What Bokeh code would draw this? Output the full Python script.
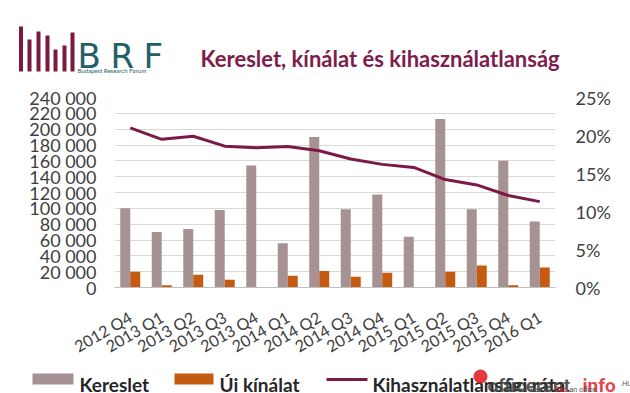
import math
from bokeh.plotting import figure
from bokeh.models import Range1d, FactorRange, LinearAxis, FixedTicker
from bokeh.transform import dodge
from bokeh.layouts import column, row
from bokeh.embed import file_html
from bokeh.resources import INLINE
from bokeh.core.properties import value

# ---------------- data ----------------
quarters = ["2012 Q4", "2013 Q1", "2013 Q2", "2013 Q3", "2013 Q4", "2014 Q1", "2014 Q2",
            "2014 Q3", "2014 Q4", "2015 Q1", "2015 Q2", "2015 Q3", "2015 Q4", "2016 Q1"]
kereslet = [100000, 70000, 74000, 98000, 154000, 56000, 190000,
            99000, 117500, 64000, 213000, 99000, 160000, 83500]
uj_kinalat = [20000, 3000, 16000, 9700, 0, 14700, 21000,
              13500, 18500, 0, 19800, 27800, 3000, 25300]
kihasznalatlansag = [21.0, 19.5, 19.9, 18.6, 18.4, 18.55, 18.0,
                     16.9, 16.2, 15.8, 14.2, 13.5, 12.1, 11.3]
left_ticks = [0, 20000, 40000, 60000, 80000, 100000, 120000, 140000,
              160000, 180000, 200000, 220000, 240000]
left_labels = ["0", "20 000", "40 000", "60 000", "80 000", "100 000", "120 000",
               "140 000", "160 000", "180 000", "200 000", "220 000", "240 000"]
right_ticks = [0, 5, 10, 15, 20, 25]
right_labels = ["0%", "5%", "10%", "15%", "20%", "25%"]
title_text = "Kereslet, kínálat és kihasználatlanság"
legend_labels = ["Kereslet", "Új kínálat", "Kihasználatlansági ráta"]

# ---------------- styles ----------------
GRAY = "#A69292"
ORANGE = "#C55A11"
MAROON = "#7B1A47"
TITLE_COL = "#7E1D4C"
TEAL = "#21606B"
TXT = "#404040"
FONT = "Lato"
W = 630


def blank(h):
    f = figure(width=W, height=h, x_range=Range1d(0, W), y_range=Range1d(h, 0),
               output_backend="svg", toolbar_location=None, min_border=0,
               x_axis_location=None, y_axis_location=None)
    f.grid.visible = False
    f.outline_line_color = None
    return f


# ---------------- header ----------------
logo_bar_x = [20.5, 29, 38, 47, 55, 64, 72]
logo_bar_top = [26, 39, 31, 35, 49, 45, 32]
logo_bar_bottom = [71] * 7
logo_letters = ["B", "R", "F"]
logo_letter_x = [77, 110, 143]

header = blank(85)
header.vbar(x=logo_bar_x, top=logo_bar_top, bottom=logo_bar_bottom, width=4,
            color="#7B1A3F", line_color=None)
header.text(x=logo_letter_x, y=[55] * 3, text=logo_letters, text_font=value("DejaVu Sans"),
            text_font_size="34px", text_color=TEAL, text_baseline="alphabetic")
header.text(x=[77], y=[70], text=["Budapest Research Forum"], text_font=value("Lato"),
            text_font_size="6px", text_color=TEAL, text_baseline="alphabetic")
header.text(x=[200], y=[58], text=[title_text], text_font=value(FONT),
            text_font_size="22px", text_font_style="bold", text_color=TITLE_COL,
            text_baseline="alphabetic")

# ---------------- main chart ----------------
p = figure(width=W, height=283, x_range=FactorRange(factors=quarters),
           y_range=Range1d(0, 240000), output_backend="svg", toolbar_location=None,
           min_border_left=114, min_border_right=75, min_border_top=12, min_border_bottom=81)
p.extra_y_ranges = {"pct": Range1d(0, 25)}
p.outline_line_color = None
p.xgrid.grid_line_color = None
p.ygrid.grid_line_color = "#D9D9D9"
p.ygrid.ticker = FixedTicker(ticks=left_ticks)

p.vbar(x=dodge("q", -0.1587, range=p.x_range), top="k", width=0.317, color=GRAY,
       line_color=None, source=dict(q=quarters, k=kereslet))
p.vbar(x=dodge("q", 0.1587, range=p.x_range), top="u", width=0.317, color=ORANGE,
       line_color=None, source=dict(q=quarters, u=uj_kinalat))
p.line(x=quarters, y=kihasznalatlansag, y_range_name="pct", line_color=MAROON,
       line_width=3)

yl = p.yaxis[0]
yl.ticker = FixedTicker(ticks=left_ticks)
yl.major_label_overrides = {t: l for t, l in zip(left_ticks, left_labels)}
yr = LinearAxis(y_range_name="pct", ticker=FixedTicker(ticks=right_ticks),
                major_label_overrides={t: l for t, l in zip(right_ticks, right_labels)})
p.add_layout(yr, "right")
for ax in [yl, yr]:
    ax.axis_line_color = None
    ax.major_tick_line_color = None
    ax.minor_tick_line_color = None
    ax.major_tick_out = 0
    ax.major_label_standoff = 18
    ax.major_label_text_font = FONT
    ax.major_label_text_font_size = "18px"
    ax.major_label_text_color = TXT
yr.major_label_standoff = 20

xa = p.xaxis[0]
xa.axis_line_color = "#BFBFBF"
xa.major_tick_line_color = None
xa.minor_tick_line_color = None
xa.major_tick_out = 0
xa.major_label_orientation = math.pi / 6
xa.major_label_standoff = 28
xa.major_label_text_font = FONT
xa.major_label_text_font_size = "16px"
xa.major_label_text_color = TXT

# ---------------- footer / legend ----------------
footer = blank(24)
footer.quad(left=[32, 174], right=[73, 213], top=[5, 5], bottom=[16, 16],
            color=[GRAY, ORANGE], line_color=None)
footer.line(x=[326, 367], y=[11, 11], line_color=MAROON, line_width=3)
footer.text(x=[79, 219, 372], y=[16, 16, 16], text=legend_labels, text_font=value(FONT),
            text_font_size="19px", text_font_style="bold", text_color="#262626",
            text_baseline="alphabetic")
# watermark overlay
footer.scatter(x=[480], y=[8], size=13, marker="circle", color="#E2232A", alpha=0.9)
footer.text(x=[487], y=[17], text=["officerent"], text_font=value("Roboto"),
            text_font_size="19px", text_font_style="bold", text_color="#3a3a3a",
            text_alpha=0.85, text_baseline="alphabetic")
footer.text(x=[582], y=[17], text=["info"], text_font=value("Roboto"),
            text_font_size="19px", text_font_style="bold", text_color="#E2232A",
            text_alpha=0.85, text_baseline="alphabetic")
footer.text(x=[620], y=[15], text=[".HU"], text_font=value("Roboto"),
            text_font_size="7px", text_color="#555555", text_baseline="alphabetic")
footer.text(x=[495, 555, 569], y=[21.5, 21.5, 21.5], text=["The smart way to", "find", "an office."],
            text_font=value("Roboto"), text_font_size="7px",
            text_color=["#555555", "#E2232A", "#555555"], text_baseline="alphabetic")

layout = column(row(header), row(p), row(footer), spacing=0)
open("out.html", "w").write(file_html(layout, INLINE))
